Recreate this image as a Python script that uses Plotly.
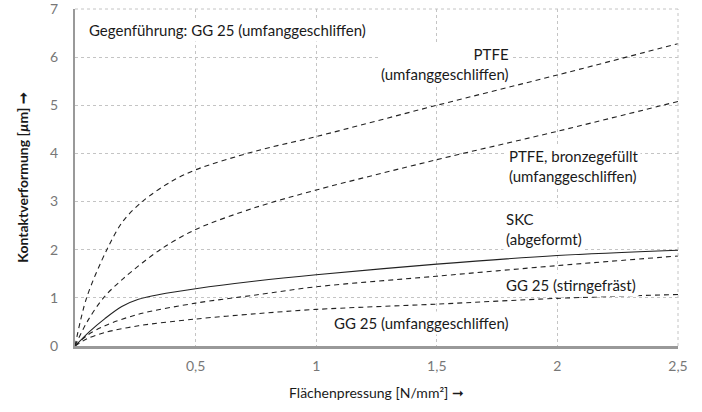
import plotly.graph_objects as go

# Data
x_ptfe = [0, 0.048, 0.132, 0.2, 0.284, 0.4, 0.5, 0.75, 1.0, 1.5, 2.0, 2.5]
y_ptfe = [0, 1.0, 2.0, 2.6, 3.02, 3.42, 3.66, 4.05, 4.35, 5.0, 5.63, 6.28]

x_bronze = [0, 0.05, 0.118, 0.2, 0.353, 0.5, 0.75, 1.0, 1.5, 2.0, 2.5]
y_bronze = [0, 0.5, 1.0, 1.4, 2.0, 2.42, 2.88, 3.24, 3.87, 4.46, 5.08]

x_skc = [0, 0.06, 0.124, 0.194, 0.263, 0.35, 0.5, 0.75, 1.0, 1.5, 2.0, 2.5]
y_skc = [0, 0.3, 0.57, 0.82, 0.97, 1.07, 1.19, 1.35, 1.48, 1.70, 1.88, 1.99]

x_stirn = [0, 0.05, 0.124, 0.263, 0.5, 0.75, 1.0, 1.5, 2.0, 2.5]
y_stirn = [0, 0.22, 0.42, 0.66, 0.89, 1.06, 1.23, 1.45, 1.67, 1.87]

x_umf = [0, 0.05, 0.124, 0.263, 0.5, 0.75, 1.0, 1.5, 2.0, 2.5]
y_umf = [0, 0.15, 0.28, 0.42, 0.56, 0.67, 0.76, 0.87, 0.99, 1.07]

x_ticks = [0.5, 1, 1.5, 2, 2.5]
x_ticktext = ["0,5", "1", "1,5", "2", "2,5"]
y_ticks = [0, 1, 2, 3, 4, 5, 6, 7]

FONT = "Lato"
dash = "5px,4px"

fig = go.Figure()
series = [
    (x_ptfe, y_ptfe, dash),
    (x_bronze, y_bronze, dash),
    (x_skc, y_skc, "solid"),
    (x_stirn, y_stirn, dash),
    (x_umf, y_umf, dash),
]
for xs, ys, d in series:
    fig.add_trace(go.Scatter(x=xs, y=ys, mode="lines",
                             line=dict(color="#222", width=1.1, dash=d, shape="spline", smoothing=0.9),
                             showlegend=False, hoverinfo="skip"))

ann_font = dict(family=FONT, size=15, color="#1a1a1a")
anns = [
    dict(x=0.045, y=6.56, text="Gegenführung: GG 25 (umfanggeschliffen)", xanchor="left", align="left"),
    dict(x=1.81, y=5.85, text="PTFE<br>(umfanggeschliffen)", xanchor="right", align="right"),
    dict(x=1.785, y=3.74, text="PTFE, bronzegefüllt<br>(umfanggeschliffen)", xanchor="left", align="left"),
    dict(x=1.775, y=2.42, text="SKC<br>(abgeformt)", xanchor="left", align="left"),
    dict(x=1.775, y=1.26, text="GG 25 (stirngefräst)", xanchor="left", align="left"),
    dict(x=1.062, y=0.48, text="GG 25 (umfanggeschliffen)", xanchor="left", align="left"),
]
for a in anns:
    fig.add_annotation(x=a["x"], y=a["y"], text=a["text"], xanchor=a["xanchor"], align=a["align"],
                       yanchor="middle", showarrow=False, font=ann_font, bgcolor="white", borderpad=2)

# top and right dotted borders
fig.add_shape(type="line", xref="paper", yref="paper", x0=0, x1=1, y0=1, y1=1,
              line=dict(color="#c4c4c4", width=1, dash="dot"))
fig.add_shape(type="line", xref="paper", yref="paper", x0=1, x1=1, y0=0, y1=1,
              line=dict(color="#c4c4c4", width=1, dash="dot"))

fig.update_layout(
    width=702, height=412,
    margin=dict(l=75, r=24, t=9, b=66),
    paper_bgcolor="white", plot_bgcolor="white",
    separators=", ",
    font=dict(family=FONT, color="#777", size=14),
    xaxis=dict(range=[0, 2.5], tickvals=x_ticks, ticktext=x_ticktext, automargin=False,
               showgrid=True, gridcolor="#c4c4c4", griddash="dot", gridwidth=1,
               showline=True, linecolor="#999", linewidth=2.5, zeroline=False,
               ticks="", ticklabelstandoff=5, ticklabeloverflow="allow",
               title=dict(text="Flächenpressung [N/mm²] ➞", font=dict(family=FONT, size=14, color="#1a1a1a"), standoff=16)),
    yaxis=dict(range=[0, 7], tickvals=y_ticks, automargin=False,
               showgrid=True, gridcolor="#c4c4c4", griddash="dot", gridwidth=1,
               showline=True, linecolor="#999", linewidth=2, zeroline=False,
               ticks="", ticklabelstandoff=12, ticklabeloverflow="allow",
               title=dict(text="<b>Kontaktverformung [<i>µ</i>m] ➞</b>", font=dict(family=FONT, size=14, color="#1a1a1a"), standoff=18)),
)

fig.write_html("out.html", config={"displayModeBar": False},
               post_script="document.body.style.margin='0';")
